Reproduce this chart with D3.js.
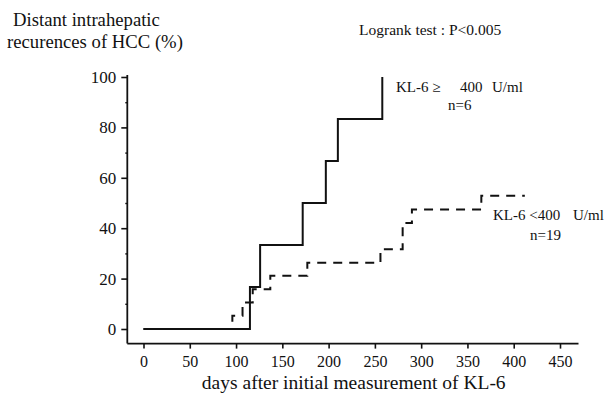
<!DOCTYPE html>
<html>
<head>
<meta charset="utf-8">
<script src="https://cdn.jsdelivr.net/npm/d3@7"></script>
<style>
  html, body { margin: 0; padding: 0; background: #fff; }
  svg { display: block; }
  svg text { font-family: "Liberation Serif", "Times New Roman", Times, serif !important; fill: #111; }
</style>
</head>
<body>
<svg id="chart" width="607" height="402"></svg>
<script>
// ---- data ----
const highDays   = [0, 115, 126, 172, 197, 210, 258];
const highValues = [0, 16.7, 33.3, 50, 66.7, 83.3, 100];
const lowDays    = [0, 96, 107, 118, 137, 177, 256, 280, 290, 365, 412];
const lowValues  = [0, 5.3, 10.5, 15.8, 21.1, 26.3, 31.6, 42.1, 47.4, 52.9, 52.9];
const xTicks = [0, 50, 100, 150, 200, 250, 300, 350, 400, 450];
const yTicks = [0, 20, 40, 60, 80, 100];
const yMinorTicks = [10, 30, 50, 70, 90];
const yTitleLines = ["Distant intrahepatic", "recurences of HCC (%)"];
const testLabel = "Logrank test : P<0.005";
const xTitle = "days after initial measurement of KL-6";

// ---- scales ----
const x = d3.scaleLinear().domain([0, 450]).range([143.5, 560]);
const y = d3.scaleLinear().domain([0, 100]).range([329, 77]);
const svg = d3.select("#chart");

const axisX0 = x(-17.5);   // y-axis position
const axisY0 = y(-5.8);    // x-axis position

// x axis
const gx = svg.append("g").attr("transform", `translate(0,${axisY0})`)
  .call(d3.axisBottom(x).tickValues(xTicks).tickSize(5).tickSizeOuter(0).tickPadding(7));
gx.attr("font-family", null);
gx.select(".domain").remove();
gx.selectAll(".tick line").attr("stroke", "#111").attr("stroke-width", 1.6);
gx.selectAll(".tick text").attr("font-size", "16px");
svg.append("line").attr("x1", axisX0).attr("x2", x(470)).attr("y1", axisY0).attr("y2", axisY0)
  .attr("stroke", "#111").attr("stroke-width", 1.8);

// y axis
const gy = svg.append("g").attr("transform", `translate(${axisX0},0)`)
  .call(d3.axisLeft(y).tickValues(yTicks).tickSize(6).tickSizeOuter(0).tickPadding(5));
gy.attr("font-family", null);
gy.select(".domain").remove();
gy.selectAll(".tick line").attr("stroke", "#111").attr("stroke-width", 1.6);
gy.selectAll(".tick text").attr("font-size", "17px");
svg.append("g").attr("transform", `translate(${axisX0},0)`)
  .call(d3.axisLeft(y).tickValues(yMinorTicks).tickSize(2).tickSizeOuter(0).tickFormat(""))
  .call(g => g.select(".domain").remove())
  .selectAll(".tick line").attr("stroke", "#111").attr("stroke-width", 1.4);
svg.append("line").attr("x1", axisX0).attr("x2", axisX0).attr("y1", y(100.8)).attr("y2", axisY0)
  .attr("stroke", "#111").attr("stroke-width", 1.8);

// curves
const line = d3.line().x(d => x(d[0])).y(d => y(d[1])).curve(d3.curveStepAfter);
svg.append("path").datum(lowDays.map((d, i) => [d, lowValues[i]]))
  .attr("d", line).attr("fill", "none").attr("stroke", "#111")
  .attr("stroke-width", 2).attr("stroke-dasharray", "9,7");
svg.append("path").datum(highDays.map((d, i) => [d, highValues[i]]))
  .attr("d", line).attr("fill", "none").attr("stroke", "#111").attr("stroke-width", 2);

// texts
svg.append("text").attr("x", 13).attr("y", 26).attr("font-size", "18.7px").text(yTitleLines[0]);
svg.append("text").attr("x", 7).attr("y", 48).attr("font-size", "18.7px").text(yTitleLines[1]);
svg.append("text").attr("x", 359).attr("y", 35).attr("font-size", "15.5px").text(testLabel);
svg.append("text").attr("x", (x(0) + x(450)) / 2 + 2).attr("y", 389).attr("text-anchor", "middle")
  .attr("font-size", "19.5px").text(xTitle);

const legendHigh = svg.append("text").attr("y", 91.5).attr("font-size", "15px");
legendHigh.append("tspan").attr("x", 396).text("KL-6 \u2265");
legendHigh.append("tspan").attr("x", 460).text("400");
legendHigh.append("tspan").attr("x", 492).text("U/ml");
svg.append("text").attr("x", 448).attr("y", 110).attr("font-size", "15px").text("n=6");

const legendLow = svg.append("text").attr("y", 219.5).attr("font-size", "15px");
legendLow.append("tspan").attr("x", 493).text("KL-6 <400");
legendLow.append("tspan").attr("x", 573).text("U/ml");
svg.append("text").attr("x", 530).attr("y", 240).attr("font-size", "15px").text("n=19");
</script>
</body>
</html>
